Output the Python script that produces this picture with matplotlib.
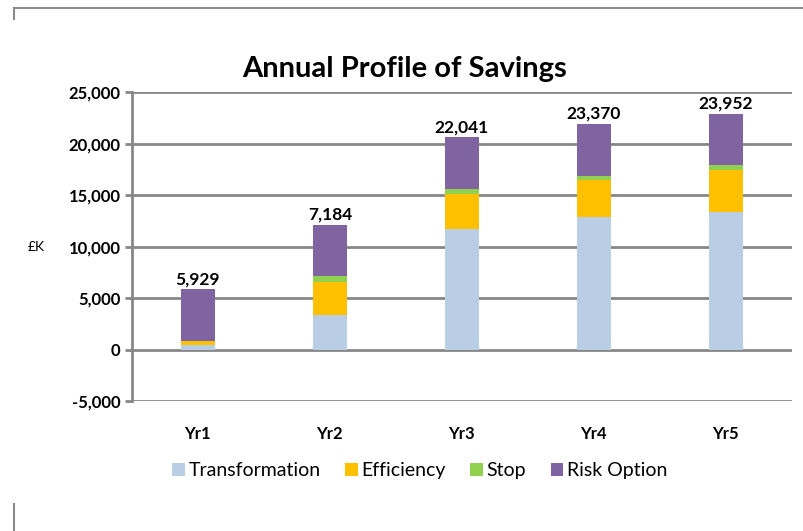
import matplotlib.pyplot as plt
from matplotlib.lines import Line2D

plt.rcParams['font.family'] = ['Lato', 'DejaVu Sans']

# Data (£K)
years = ["Yr1", "Yr2", "Yr3", "Yr4", "Yr5"]
transformation = [400, 3380, 11700, 12900, 13350]
efficiency = [400, 3200, 3360, 3540, 4050]
stop = [0, 510, 540, 390, 500]
risk_option = [5050, 5000, 5000, 5070, 5000]
total_labels = ["5,929", "7,184", "22,041", "23,370", "23,952"]

colors = ["#B9CDE5", "#FFC000", "#92D050", "#8064A2"]
names = ["Transformation", "Efficiency", "Stop", "Risk Option"]
series = [transformation, efficiency, stop, risk_option]

fig = plt.figure(figsize=(8.04, 5.31), dpi=100)
ax = fig.add_axes([0.164, 0.2448, 0.821, 0.5819])

x = list(range(len(years)))
bottom = [0] * len(years)
for vals, col, name in zip(series, colors, names):
    ax.bar(x, vals, width=0.26, bottom=bottom, color=col, label=name, zorder=3)
    bottom = [b + v for b, v in zip(bottom, vals)]

# value labels above each stack
for xi, top, lab in zip(x, bottom, total_labels):
    ax.annotate(lab, (xi, top), xytext=(0, 1.5), textcoords="offset points",
                ha="center", va="bottom", fontsize=12.5, fontweight="bold", zorder=4)

grid_col = "#878787"
ax.set_ylim(-5000, 25000)
ax.set_xlim(-0.5, len(years) - 0.5)
ax.set_yticks(range(-5000, 25001, 5000))
ax.set_yticklabels([f"{v:,}" for v in range(-5000, 25001, 5000)],
                   fontsize=12, fontweight="bold")
ax.yaxis.grid(True, color=grid_col, linewidth=2, zorder=0)
ax.tick_params(axis="y", length=5, width=2, color=grid_col, pad=3)
ax.set_xticks(x)
ax.set_xticklabels(years, fontsize=12, fontweight="bold")
ax.tick_params(axis="x", length=0, pad=18)
for side in ["top", "right", "bottom"]:
    ax.spines[side].set_visible(False)
ax.spines["left"].set_color(grid_col)
ax.spines["left"].set_linewidth(2)

fig.text(0.503, 0.870, "Annual Profile of Savings", fontsize=21, fontweight="bold",
         ha="center", va="center")
fig.text(0.045, 0.535, "£K", fontsize=10, ha="center", va="center")

fig.legend(*ax.get_legend_handles_labels(), loc="center", bbox_to_anchor=(0.522, 0.113),
           ncol=4, frameon=False, fontsize=14, handlelength=0.65, handleheight=0.65,
           handletextpad=0.2, columnspacing=1.25)

# chart border remnants
border = "#8C8C8C"
fig.add_artist(Line2D([0.018, 1.0], [0.985, 0.985], color=border, lw=1.5))
fig.add_artist(Line2D([0.018, 0.018], [0.985, 0.965], color=border, lw=1.5))
fig.add_artist(Line2D([0.018, 0.018], [0.05, 0.0], color=border, lw=1.5))

fig.savefig("out.png", dpi=100)
